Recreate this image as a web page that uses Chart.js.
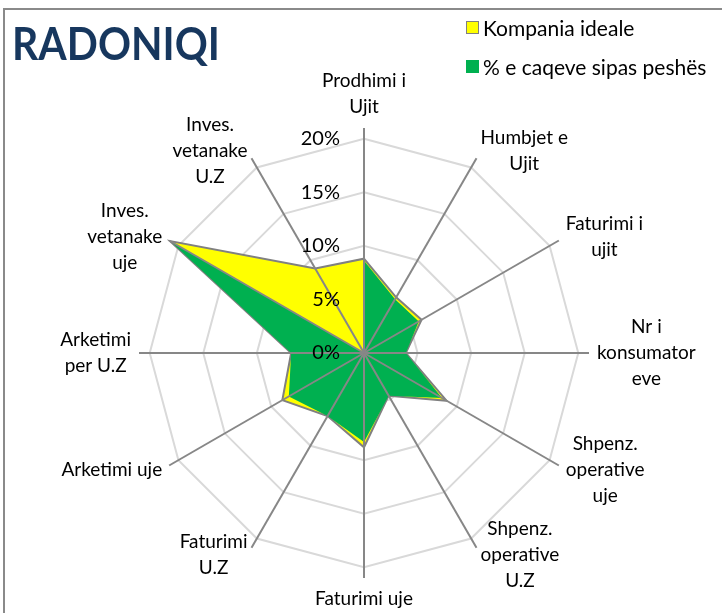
<!DOCTYPE html>
<html>
<head>
<meta charset="utf-8">
<script src="https://cdn.jsdelivr.net/npm/chart.js@4.4.1/dist/chart.umd.min.js"></script>
<style>
  html, body { margin: 0; padding: 0; background: #fff; }
  #wrap { position: relative; width: 722px; height: 613px; overflow: hidden; font-family: Lato, "Open Sans", sans-serif; }
  #frame { position: absolute; left: 3px; top: 8px; width: 780px; height: 680px; border: 2px solid #8a8a8a; box-sizing: border-box; }
  canvas { position: absolute; left: 0; top: 0; }
  #title { position: absolute; left: 12px; top: 20px; font: bold 46px/46px Lato, sans-serif; color: #17375E; white-space: nowrap; transform: scaleX(0.89); transform-origin: left top; }
  #legend { position: absolute; left: 466px; top: 14px; font: 21px Lato, sans-serif; color: #000; }
  .row { display: flex; align-items: center; height: 26px; margin-bottom: 13px; white-space: nowrap; }
  .box { width: 13px; height: 13px; box-sizing: border-box; margin-right: 4px; }
</style>
</head>
<body>
<div id="wrap">
  <div id="frame"></div>
  <canvas id="chart" width="722" height="613"></canvas>
  <div id="title">RADONIQI</div>
  <div id="legend"></div>
</div>
<script>
// kategorite, ne drejtim te akrepave nga lart
const categories = [
  ['Prodhimi i', 'Ujit'],
  ['Humbjet e', 'Ujit'],
  ['Faturimi i', 'ujit'],
  ['Nr i', 'konsumator', 'eve'],
  ['Shpenz.', 'operative', 'uje'],
  ['Shpenz.', 'operative', 'U.Z'],
  'Faturimi uje',
  ['Faturimi', 'U.Z'],
  'Arketimi uje',
  ['Arketimi', 'per U.Z'],
  ['Inves.', 'vetanake', 'uje'],
  ['Inves.', 'vetanake', 'U.Z']
];

// vlerat ne %
const idealValues = [8.8, 6.0, 6.2, 3.9, 8.9, 4.6, 8.8, 6.8, 8.8, 6.8, 20.9, 9.1];
const caqeValues  = [8.6, 5.8, 5.9, 3.9, 8.4, 4.6, 8.3, 6.8, 8.1, 6.8, 20.9, 0];

const tickValues = [0, 5, 10, 15, 20];
const tickLabels = ['0%', '5%', '10%', '15%', '20%'];

// boshtet (spokes) mbi siperfaqet, si ne Excel + etiketat
const radarExtras = {
  id: 'radarExtras',
  afterDatasetsDraw(chart) {
    const s = chart.scales.r;
    const ctx = chart.ctx;
    const outer = s.getDistanceFromCenterForValue(s.max);
    ctx.save();

    ctx.strokeStyle = '#878787';
    ctx.lineWidth = 2;
    categories.forEach((c, i) => {
      const p = s.getPointPosition(i, outer);
      ctx.beginPath();
      ctx.moveTo(s.xCenter, s.yCenter);
      ctx.lineTo(p.x, p.y);
      ctx.stroke();
    });

    // etiketat e vlerave, majtas boshtit vertikal
    ctx.fillStyle = '#000';
    ctx.font = '20px Lato';
    ctx.textAlign = 'right';
    ctx.textBaseline = 'middle';
    s.ticks.forEach((t, i) => {
      ctx.fillText(tickLabels[i], s.xCenter - 24, s.yCenter - s.getDistanceFromCenterForValue(t.value));
    });

    // etiketat e kategorive
    ctx.font = '19px Lato';
    ctx.textAlign = 'center';
    const lh = 26;
    categories.forEach((c, i) => {
      const lines = Array.isArray(c) ? c : [c];
      const p = s.getPointPosition(i, outer + 8);
      const ang = Math.round(s.getIndexAngle(i) * 180 / Math.PI) % 360;
      const w = Math.max(...lines.map(l => ctx.measureText(l).width));
      const h = lines.length * lh;
      let cx, top;
      if (ang === 0)        { cx = p.x;         top = p.y - h; }
      else if (ang === 180) { cx = p.x;         top = p.y; }
      else if (ang < 180)   { cx = p.x + w / 2; top = p.y - h / 2; }
      else                  { cx = p.x - w / 2; top = p.y - h / 2; }
      lines.forEach((l, k) => ctx.fillText(l, cx, top + lh * k + lh / 2));
    });

    ctx.restore();
  }
};

const chart = new Chart(document.getElementById('chart'), {
  type: 'radar',
  data: {
    labels: categories,
    datasets: [
      {
        label: 'Kompania ideale',
        data: idealValues,
        backgroundColor: '#FFFF00',
        borderColor: '#808080',
        borderWidth: 2,
        fill: 'origin',
        pointRadius: 0,
        order: 1
      },
      {
        label: '% e caqeve sipas peshës',
        data: caqeValues,
        backgroundColor: '#00B050',
        borderColor: '#00B050',
        borderWidth: 0,
        fill: 'origin',
        pointRadius: 0,
        order: 0
      }
    ]
  },
  options: {
    responsive: false,
    animation: false,
    layout: { padding: { left: 139, right: 133, top: 128, bottom: 35 } },
    plugins: {
      legend: { display: false },
      tooltip: { enabled: false }
    },
    elements: { line: { tension: 0 } },
    scales: {
      r: {
        min: 0,
        max: 21,
        afterBuildTicks: (scale) => { scale.ticks = tickValues.map(v => ({ value: v })); },
        ticks: { display: false },
        grid: { color: '#D9D9D9', lineWidth: 2, circular: false },
        angleLines: { display: false },
        pointLabels: { display: false }
      }
    }
  },
  plugins: [radarExtras]
});

// legjenda
const legend = document.getElementById('legend');
chart.data.datasets.forEach(ds => {
  const row = document.createElement('div');
  row.className = 'row';
  const box = document.createElement('span');
  box.className = 'box';
  box.style.background = ds.backgroundColor;
  box.style.border = ds.borderWidth ? '1px solid ' + ds.borderColor : 'none';
  row.appendChild(box);
  row.appendChild(document.createTextNode(ds.label));
  legend.appendChild(row);
});
</script>
</body>
</html>
